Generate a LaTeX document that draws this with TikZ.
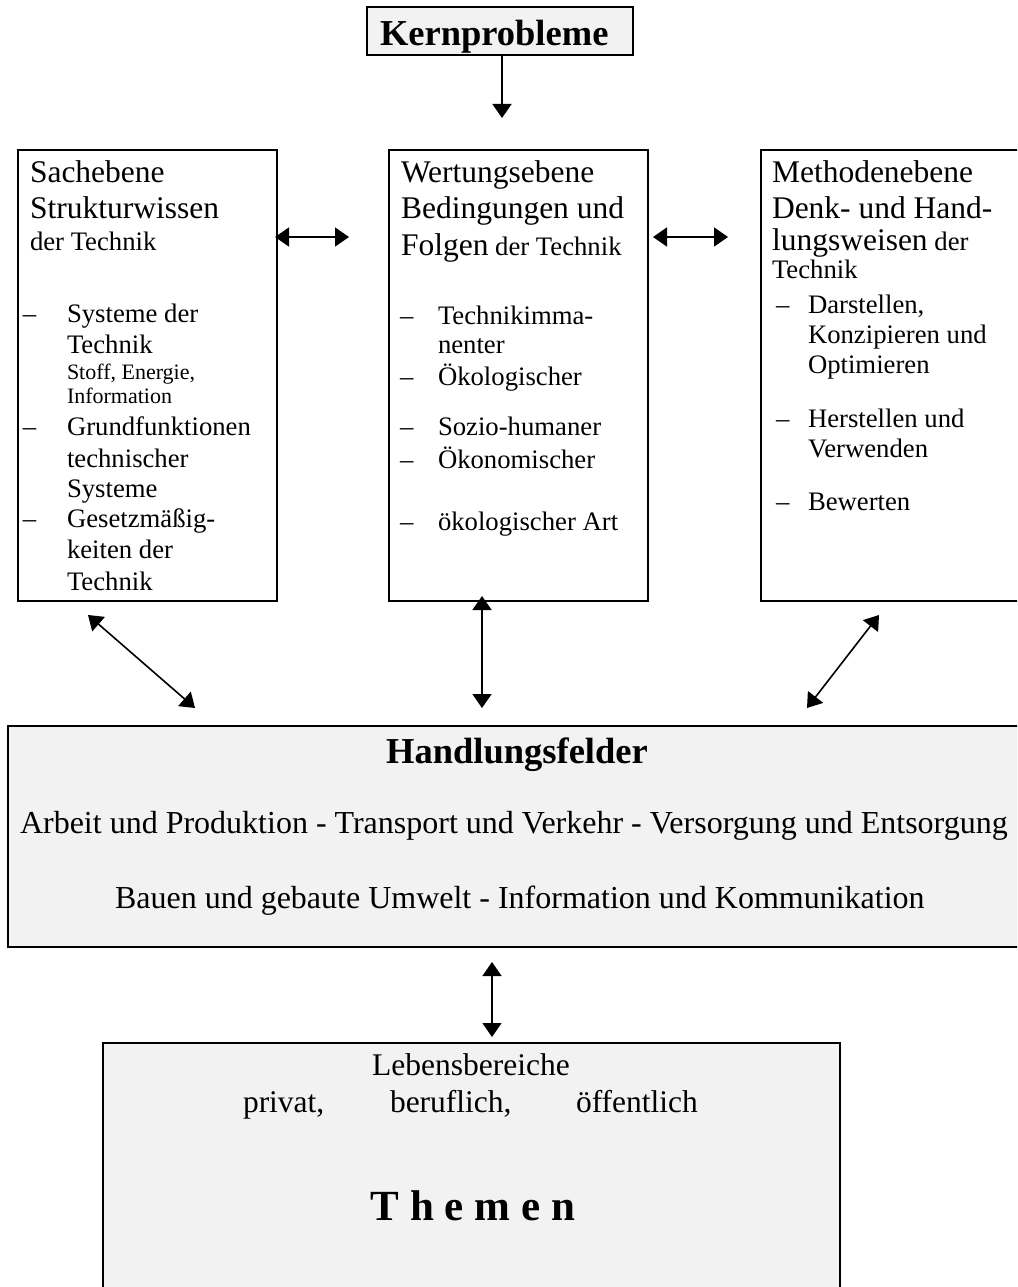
\documentclass[tikz,border=0pt]{standalone}
\usepackage{fontspec}
\setmainfont{Liberation Serif}
\usetikzlibrary{arrows.meta}
\definecolor{boxgray}{HTML}{F2F2F2}
\newcommand\myfs[1]{\fontsize{#1pt}{#1pt}\selectfont}
\begin{document}
\begin{tikzpicture}[x=1pt,y=-1pt,
  frame/.style={draw=black, line width=2pt, inner sep=0pt, outer sep=0pt, rectangle},
  grayframe/.style={frame, fill=boxgray},
  txt/.style={anchor=base west, inner sep=0pt, outer sep=0pt, font=\myfs{26.7}},
  head/.style={txt, font=\myfs{31.5}},
  small/.style={txt, font=\myfs{22}},
  ctr/.style={anchor=base, inner sep=0pt, outer sep=0pt, font=\myfs{31.5}},
  tip/.tip={Triangle[length=14pt,width=19pt]},
  conn/.style={line width=1.6pt, tip-tip},
  oneway/.style={line width=1.6pt, -tip}]
\path[use as bounding box, fill=white] (0,0) rectangle (1017,1287);
\clip (0,0) rectangle (1017,1287);

% boxes
\node[grayframe, minimum width=266, minimum height=48] (kern) at (500,31) {};
\node[frame, minimum width=259, minimum height=451] (sach) at (147.5,375.5) {};
\node[frame, minimum width=259, minimum height=451] (wert) at (518.5,375.5) {};
\node[frame, minimum width=269, minimum height=451] (meth) at (895.5,375.5) {};
\node[grayframe, minimum width=1022, minimum height=221] (hand) at (519,836.5) {};
\node[grayframe, minimum width=737, minimum height=257] (them) at (471.5,1171.5) {};

% Kernprobleme
\node[txt, font=\myfs{36.5}\bfseries] (kerntxt) at (380,46) {Kernprobleme};

% Sachebene
\node[head] (s1) at (30,182) {Sachebene};
\node[head] (s2) at (30,218) {Strukturwissen};
\node[txt] (s3) at (30,250) {der Technik};
\node[txt] (sd1) at (23,322) {\textendash};
\node[txt] (s4) at (67,322) {Systeme der};
\node[txt] (s5) at (67,353) {Technik};
\node[small] (s6) at (67,379) {Stoff, Energie,};
\node[small] (s7) at (67,403) {Information};
\node[txt] (sd2) at (23,435) {\textendash};
\node[txt] (s8) at (67,435) {Grundfunktionen};
\node[txt] (s9) at (67,467) {technischer};
\node[txt] (s10) at (67,497) {Systeme};
\node[txt] (sd3) at (23,527) {\textendash};
\node[txt] (s11) at (67,527) {Gesetzmäßig-};
\node[txt] (s12) at (67,558) {keiten der};
\node[txt] (s13) at (67,590) {Technik};

% Wertungsebene
\node[head] (w1) at (401,182) {Wertungsebene};
\node[head] (w2) at (401,218) {Bedingungen und};
\node[head] (w3) at (401,255) {Folgen{\myfs{26.7} der Technik}};
\node[txt] (wd1) at (400,324) {\textendash};
\node[txt] (w4) at (438,324) {Technikimma-};
\node[txt] (w5) at (438,353) {nenter};
\node[txt] (wd2) at (400,385) {\textendash};
\node[txt] (w6) at (438,385) {Ökologischer};
\node[txt] (wd3) at (400,435) {\textendash};
\node[txt] (w7) at (438,435) {Sozio-humaner};
\node[txt] (wd4) at (400,468) {\textendash};
\node[txt] (w8) at (438,468) {Ökonomischer};
\node[txt] (wd5) at (400,530) {\textendash};
\node[txt] (w9) at (438,530) {ökologischer Art};

% Methodenebene
\node[head] (m1) at (772,182) {Methodenebene};
\node[head] (m2) at (772,218) {Denk- und Hand-};
\node[head] (m3) at (772,250) {lungsweisen{\myfs{26.7} der}};
\node[txt] (m4) at (772,278) {Technik};
\node[txt] (md1) at (776,313) {\textendash};
\node[txt] (m5) at (808,313) {Darstellen,};
\node[txt] (m6) at (808,343) {Konzipieren und};
\node[txt] (m7) at (808,373) {Optimieren};
\node[txt] (md2) at (776,427) {\textendash};
\node[txt] (m8) at (808,427) {Herstellen und};
\node[txt] (m9) at (808,457) {Verwenden};
\node[txt] (md3) at (776,510) {\textendash};
\node[txt] (m10) at (808,510) {Bewerten};

% Handlungsfelder
\node[ctr, font=\myfs{36.5}\bfseries] (h1) at (517,763) {Handlungsfelder};
\node[txt, font=\myfs{32}] (h2) at (20,833) {Arbeit und Produktion - Transport und Verkehr - Versorgung und Entsorgung};
\node[txt, font=\myfs{32}] (h3) at (115,908) {Bauen und gebaute Umwelt - Information und Kommunikation};

% Themen
\node[ctr] (t1) at (471,1075) {Lebensbereiche};
\node[txt, font=\myfs{31.5}] (t2) at (243,1112) {privat,};
\node[txt, font=\myfs{31.5}] (t3) at (390,1112) {beruflich,};
\node[txt, font=\myfs{31.5}] (t4) at (576,1112) {öffentlich};
\node[ctr, font=\myfs{43}\bfseries] (t5) at (473,1220) {T h e m e n};

% connector end points
\coordinate (k1) at (502,55);
\coordinate (k2) at (502,118);
\coordinate (a1) at (275,237);
\coordinate (a2) at (349,237);
\coordinate (b1) at (653,237);
\coordinate (b2) at (728,237);
\coordinate (c1) at (88,615);
\coordinate (c2) at (195,708);
\coordinate (d1) at (482,596);
\coordinate (d2) at (482,708);
\coordinate (e1) at (879,615);
\coordinate (e2) at (807,708);
\coordinate (f1) at (492,962);
\coordinate (f2) at (492,1037);

\draw[oneway] (k1) -- (k2);
\draw[conn] (a1) -- (a2);
\draw[conn] (b1) -- (b2);
\draw[conn] (c1) -- (c2);
\draw[conn] (d1) -- (d2);
\draw[conn] (e1) -- (e2);
\draw[conn] (f1) -- (f2);
\end{tikzpicture}
\end{document}
